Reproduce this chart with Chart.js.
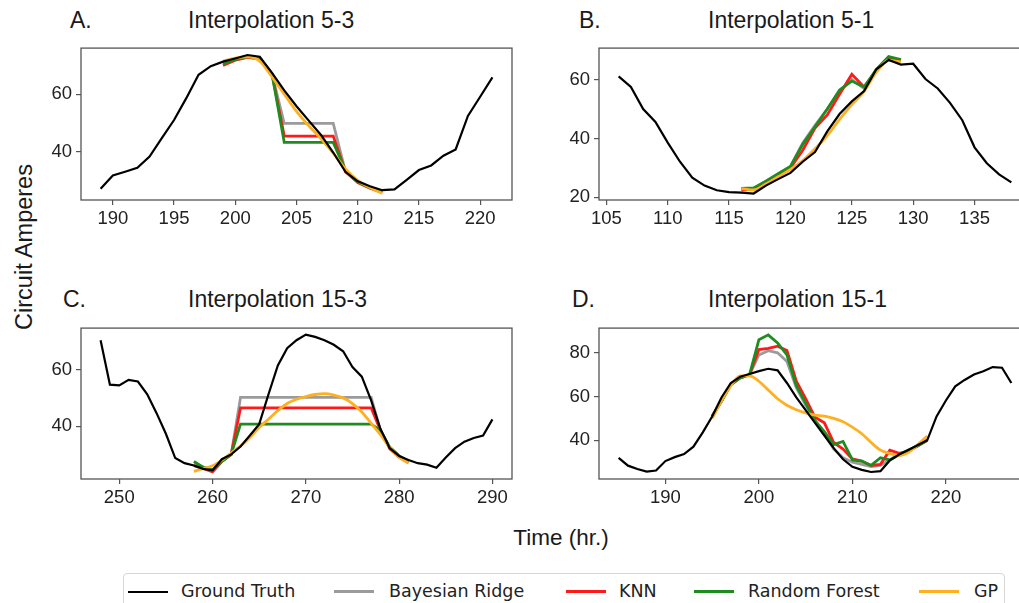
<!DOCTYPE html>
<html lang="en">
<head>
<meta charset="UTF-8">
<title>Interpolation comparison</title>
<script src="https://cdn.jsdelivr.net/npm/chart.js"></script>
<style>
    html, body { margin: 0; padding: 0; background: #fff; overflow: hidden; }
    body { width: 1019px; height: 603px; position: relative; font-family: "Liberation Sans", Arial, sans-serif; color: #1a1a1a; }
    canvas { position: absolute; }
    .txt { position: absolute; white-space: nowrap; line-height: 1; }
    .title { font-size: 23px; }
    .legend { position: absolute; left: 123px; top: 573px; width: 880px; height: 50px; border: 1px solid #d6d6d6; border-radius: 4px;
              font-family: "DejaVu Sans", sans-serif; font-size: 17.5px; color: #222; }
    .legend .sw { position: absolute; top: 16px; height: 3px; width: 40px; }
    .legend .lt { position: absolute; top: 7px; line-height: 20px; }
</style>
</head>
<body>
<div class="txt title" style="left:70px;top:9px">A.</div>
<div class="txt title" style="left:188px;top:9px">Interpolation 5-3</div>
<div class="txt title" style="left:579px;top:9px">B.</div>
<div class="txt title" style="left:708px;top:9px">Interpolation 5-1</div>
<div class="txt title" style="left:63px;top:288px">C.</div>
<div class="txt title" style="left:188px;top:288px">Interpolation 15-3</div>
<div class="txt title" style="left:572px;top:288px">D.</div>
<div class="txt title" style="left:708px;top:288px">Interpolation 15-1</div>
<div class="txt" style="left:25px;top:247px;font-size:23.5px;transform:translate(-50%,-50%) rotate(-90deg)">Circuit Amperes</div>
<div class="txt" style="left:561px;top:538px;font-size:22.5px;transform:translate(-50%,-50%)">Time (hr.)</div>

<div class="legend">
    <div class="sw" style="left:4px;background:#000;height:1.6px;top:17px"></div><div class="lt" style="left:57px">Ground Truth</div>
    <div class="sw" style="left:210px;background:#9b9b9b"></div><div class="lt" style="left:265px">Bayesian Ridge</div>
    <div class="sw" style="left:442px;background:#ff1a1a"></div><div class="lt" style="left:495px">KNN</div>
    <div class="sw" style="left:570px;background:#1e8c1e"></div><div class="lt" style="left:624px">Random Forest</div>
    <div class="sw" style="left:795px;background:#ffb020"></div><div class="lt" style="left:850px">GP</div>
</div>

<script>
// ---- A. Interpolation 5-3 ----
const hoursA = [189,190,191,192,193,194,195,196,197,198,199,200,201,202,203,204,205,206,207,208,209,210,211,212,213,214,215,216,217,218,219,220,221];
const truthA = [27.1,31.7,33,34.4,38.3,44.7,51,58.6,66.7,69.7,71.3,72.4,73.6,73,67.4,61.3,55.8,50.8,45.8,39.7,33,29.7,28,26.6,26.9,30.2,33.6,35.2,38.6,40.8,52.4,59.1,65.8];
const predHoursA = [199,200,201,202,203,204,205,206,207,208,209,210,211,212];
const bayesA = [70.5,72,73,72.5,67,49.8,49.8,49.8,49.8,49.8,33,29.5,27.5,26];
const knnA   = [70,71.8,72.8,72.2,67,45.4,45.4,45.4,45.4,45.4,33,29.3,27.3,25.8];
const rfA    = [70.5,72,73,72.5,67,43.2,43.2,43.2,43.2,43.2,33.5,29.5,27.5,26];
const gpA    = [71.5,72.5,73,71.5,66,60,54,49,44.5,39.5,34,30,27.5,25.5];
const xTicksA = [190,195,200,205,210,215,220];
const yTicksA = [40,60];

// ---- B. Interpolation 5-1 ----
const hoursB = [106,107,108,109,110,111,112,113,114,115,116,117,118,119,120,121,122,123,124,125,126,127,128,129,130,131,132,133,134,135,136,137,138];
const truthB = [61.1,57.5,50,45.6,38.6,32.1,26.7,24,22.4,21.8,21.6,21.3,24,26.2,28.3,32.1,35.4,42.4,48.3,52.6,56.1,63.5,66.7,65.1,65.4,60.2,57,52.1,46.2,37,31.6,27.8,25.1];
const predHoursB = [116,117,118,119,120,121,122,123,124,125,126,127,128,129];
const bayesB = [23,23,25.5,28,30.5,38.5,44.5,50,56,60,57,63.5,67.5,66.5];
const knnB   = [22.5,22.8,25,27.5,30,36,43.5,48,55,61.8,57.5,63,67.5,66.5];
const rfB    = [23,23.2,25.5,28,30.5,38,44,50,56.5,59.5,57.5,63.5,67.8,66.8];
const gpB    = [23,22.5,24.5,27,29.5,32.5,36.5,41,46.5,51.5,56,62.5,66.5,66];
const xTicksB = [105,110,115,120,125,130,135];
const yTicksB = [20,40,60];

// ---- C. Interpolation 15-3 ----
const hoursC = [248,249,250,251,252,253,254,255,256,257,258,259,260,261,262,263,264,265,266,267,268,269,270,271,272,273,274,275,276,277,278,279,280,281,282,283,284,285,286,287,288,289,290];
const truthC = [70.4,54.7,54.4,56.4,55.8,51.3,44.6,37.3,28.7,26.9,26.1,24.9,24.4,28.3,30,32.8,36.7,40.7,51.3,61.5,67.6,70.4,72.4,71.6,70.4,68.8,66.5,60.9,57.5,49.1,39,32.2,29.4,28,26.9,26.4,25.3,28.9,32.2,34.5,35.8,36.7,42.4];
const predHoursC = [258,259,260,261,262,263,264,265,266,267,268,269,270,271,272,273,274,275,276,277,278,279,280,281];
const bayesC = [26.5,25.5,24.5,27.5,30,50.2,50.2,50.2,50.2,50.2,50.2,50.2,50.2,50.2,50.2,50.2,50.2,50.2,50.2,50.2,38.5,32.5,29.5,27.5];
const knnC   = [26,25,23.8,27.5,30,46.5,46.5,46.5,46.5,46.5,46.5,46.5,46.5,46.5,46.5,46.5,46.5,46.5,46.5,46.5,38.5,32,29,27];
const rfC    = [27.5,25.5,24.5,27.5,30,40.7,40.7,40.7,40.7,40.7,40.7,40.7,40.7,40.7,40.7,40.7,40.7,40.7,40.7,40.7,38.5,32.5,29.5,27.5];
const gpC    = [24,25,26,28,30.5,33,36,39.5,42.5,45.5,48,49.5,50.5,51.2,51.5,51,50,48,45,41,37,32.5,29,27];
const xTicksC = [250,260,270,280,290];
const yTicksC = [40,60];

// ---- D. Interpolation 15-1 ----
const hoursD = [185,186,187,188,189,190,191,192,193,194,195,196,197,198,199,200,201,202,203,204,205,206,207,208,209,210,211,212,213,214,215,216,217,218,219,220,221,222,223,224,225,226,227];
const truthD = [32,28.4,26.9,25.7,26.2,30.5,32.3,33.7,37.1,43.6,50.9,59.6,66.2,69.1,70.3,71.6,72.7,72,66.2,59.6,53.8,48,42.2,36.4,31.3,27.9,26.5,25.5,25.9,30.8,33.5,35.6,37.8,40,50.9,58.2,64.7,67.6,70.1,71.6,73.5,73.2,66.2];
const predHoursD = [195,196,197,198,199,200,201,202,203,204,205,206,207,208,209,210,211,212,213,214,215,216,217,218];
const bayesD = [51,58,65.5,68.5,70,79,81,80,76,64,56,49,43,36,32,30,29,28,28.5,31,33.5,35.5,37.5,40];
const knnD   = [51,58,65.5,68.5,70,81.5,82,83,81,67,59,50.5,48,39,36,31.5,30.5,28.5,29,35.5,34,35,37.5,40];
const rfD    = [51,58,65.5,68.5,70,86,88.2,84.5,79,65,57,49,44,38,39.5,31,30.5,28.5,32,31,33.5,35.5,37.5,40];
const gpD    = [50,58,65,69.5,69.5,67,63,59,56,54,52.5,51.5,51,50,48.5,46,43,39,35.5,34,33,34.5,38,42];
const xTicksD = [190,200,210,220];
const yTicksD = [40,60,80];

const PAD_L = 55, PAD_T = 8, PAD_R = 8, PAD_B = 34;
const AXIS = '#555';

// draws the full box around the plot area
const framePlugin = {
    id: 'frame',
    afterDatasetsDraw(chart) {
        const { ctx, chartArea: a } = chart;
        ctx.save();
        ctx.strokeStyle = AXIS;
        ctx.lineWidth = 1.3;
        ctx.strokeRect(a.left, a.top, a.right - a.left, a.bottom - a.top);
        ctx.restore();
    }
};

function pts(xs, ys) {
    return xs.map((x, i) => ({ x: x, y: ys[i] }));
}

function line(data, color, width, smooth) {
    return {
        data: data, borderColor: color, borderWidth: width, pointRadius: 0, fill: false,
        tension: 0, cubicInterpolationMode: smooth ? 'monotone' : 'default'
    };
}

function panel(box, xr, yr, xTicks, yTicks, hours, truth, predHours, bayes, knn, rf, gp) {
    const c = document.createElement('canvas');
    const w = box.right - box.left + PAD_L + PAD_R;
    const h = box.bottom - box.top + PAD_T + PAD_B;
    c.width = w; c.height = h;
    c.style.left = (box.left - PAD_L) + 'px';
    c.style.top = (box.top - PAD_T) + 'px';
    c.style.width = w + 'px'; c.style.height = h + 'px';
    document.body.appendChild(c);

    const tickFont = { family: 'Liberation Sans', size: 18.5 };
    const grid = { display: true, drawOnChartArea: false, drawTicks: true, tickLength: 5, color: AXIS, lineWidth: 1.2 };

    new Chart(c, {
        type: 'line',
        data: {
            datasets: [
                line(pts(hours, truth), '#000000', 2.2, false),
                line(pts(predHours, gp), '#ffb020', 2.8, true),
                line(pts(predHours, rf), '#1e8c1e', 2.8, false),
                line(pts(predHours, knn), '#ff1a1a', 2.8, false),
                line(pts(predHours, bayes), '#9b9b9b', 2.8, false)
            ]
        },
        options: {
            responsive: false,
            animation: false,
            devicePixelRatio: 1,
            layout: { padding: { left: 0, top: PAD_T, right: PAD_R, bottom: 0 } },
            plugins: { legend: { display: false }, tooltip: { enabled: false } },
            scales: {
                x: {
                    type: 'linear', min: xr[0], max: xr[1],
                    afterBuildTicks: s => { s.ticks = xTicks.map(v => ({ value: v })); },
                    afterFit: s => { s.height = PAD_B; },
                    grid: grid, border: { display: false },
                    ticks: { color: '#222', font: tickFont, padding: 3, maxRotation: 0, autoSkip: false }
                },
                y: {
                    type: 'linear', min: yr[0], max: yr[1],
                    afterBuildTicks: s => { s.ticks = yTicks.map(v => ({ value: v })); },
                    afterFit: s => { s.width = PAD_L; },
                    grid: grid, border: { display: false },
                    ticks: { color: '#222', font: tickFont, padding: 4, autoSkip: false }
                }
            }
        },
        plugins: [framePlugin]
    });
}

panel({ left: 81, right: 512, top: 41, bottom: 200 }, [187.4, 222.6], [23.2, 76.0], xTicksA, yTicksA,
      hoursA, truthA, predHoursA, bayesA, knnA, rfA, gpA);
panel({ left: 599, right: 1031, top: 41, bottom: 200 }, [104.4, 139.6], [19.1, 70.7], xTicksB, yTicksB,
      hoursB, truthB, predHoursB, bayesB, knnB, rfB, gpB);
panel({ left: 81, right: 512, top: 321, bottom: 479 }, [245.9, 292.1], [21.3, 74.7], xTicksC, yTicksC,
      hoursC, truthC, predHoursC, bayesC, knnC, rfC, gpC);
panel({ left: 599, right: 1031, top: 321, bottom: 479 }, [182.9, 229.1], [22.3, 91.3], xTicksD, yTicksD,
      hoursD, truthD, predHoursD, bayesD, knnD, rfD, gpD);
</script>
</body>
</html>
